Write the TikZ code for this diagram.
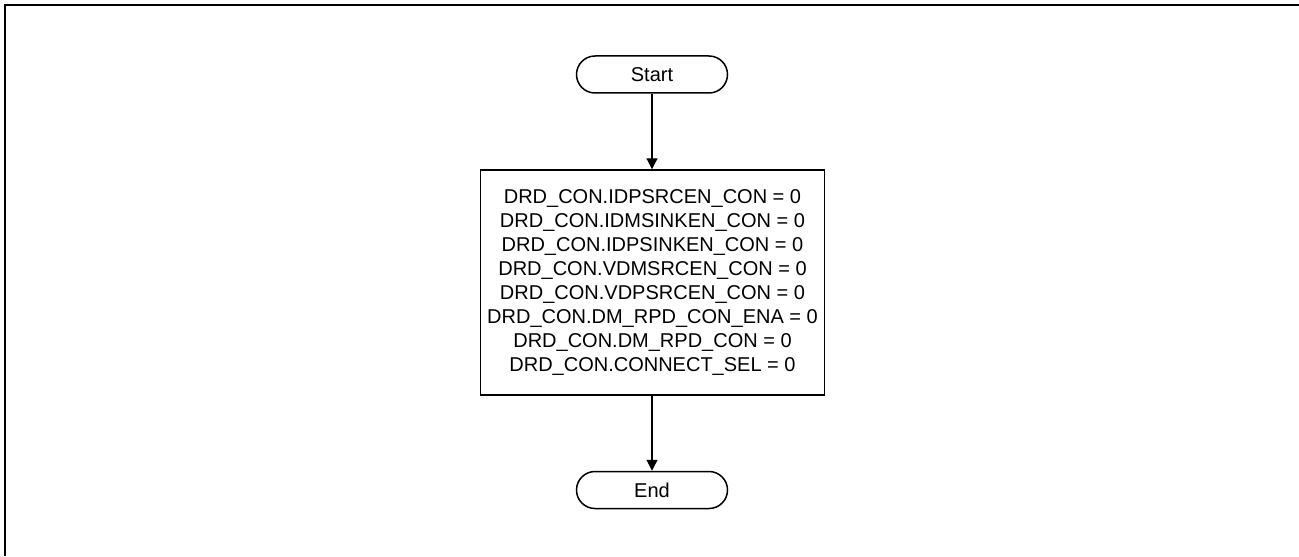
\documentclass[tikz,border=0pt]{standalone}
\usepackage{fontspec}
\setmainfont{Liberation Sans}
\usepackage{tikz}
\usetikzlibrary{arrows.meta}

\begin{document}
\begin{tikzpicture}[
x=0.5pt, y=-0.5pt,
font=\fontsize{10}{12}\selectfont,
terminal/.style={
draw=black,
line width=0.75pt,
rounded corners=9.25pt,
minimum width=75.5pt,
minimum height=18.5pt,
inner sep=0pt
},
process/.style={
draw=black,
line width=0.75pt,
minimum width=169.5pt,
minimum height=112.5pt,
align=center
},
flow/.style={
line width=0.6pt,
-{Triangle[length=5.5pt,width=5.5pt]}
}
]

\useasboundingbox (0,0) rectangle (1299,556);
\draw[line width=1pt] (5,556) -- (5,5.5) -- (1299,5.5);

\node[terminal] (start) at (652,74.5) {Start};

\node[process] (regs) at (652.5,282.5) {DRD\_CON.IDPSRCEN\_CON = 0\\
DRD\_CON.IDMSINKEN\_CON = 0\\
DRD\_CON.IDPSINKEN\_CON = 0\\
DRD\_CON.VDMSRCEN\_CON = 0\\
DRD\_CON.VDPSRCEN\_CON = 0\\
DRD\_CON.DM\_RPD\_CON\_ENA = 0\\
DRD\_CON.DM\_RPD\_CON = 0\\
DRD\_CON.CONNECT\_SEL = 0};

\node[terminal] (end) at (652,490) {End};

\draw[flow] (start) -- (start|-regs.north);
\draw[flow] (regs.south-|end) -- (end);

\end{tikzpicture}
\end{document}
